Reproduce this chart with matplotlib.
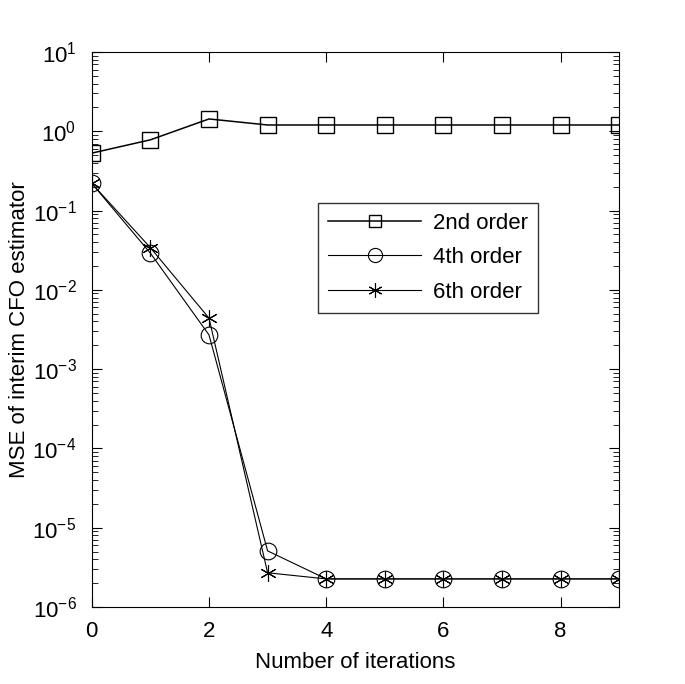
import matplotlib
matplotlib.use("Agg")
import matplotlib.pyplot as plt
import numpy as np

plt.rcParams['font.family'] = ['Liberation Sans', 'DejaVu Sans']
plt.rcParams['axes.unicode_minus'] = False
plt.rcParams['xtick.direction'] = 'in'
plt.rcParams['ytick.direction'] = 'in'

# data
iterations = [0, 1, 2, 3, 4, 5, 6, 7, 8, 9]
mse_2nd = [0.53, 0.78, 1.43, 1.2, 1.2, 1.2, 1.2, 1.2, 1.2, 1.2]
mse_4th = [0.22, 0.029, 0.0027, 5.1e-6, 2.26e-6, 2.26e-6, 2.26e-6, 2.26e-6, 2.26e-6, 2.26e-6]
mse_6th = [0.22, 0.034, 0.0044, 2.7e-6, 2.26e-6, 2.26e-6, 2.26e-6, 2.26e-6, 2.26e-6, 2.26e-6]
labels = ['2nd order', '4th order', '6th order']

fig = plt.figure(figsize=(6.85, 6.84), dpi=100)
ax = fig.add_axes([0.134, 0.1126, 0.770, 0.8114])

ax.semilogy(iterations, mse_2nd, color='k', lw=1.1, marker='s', ms=11,
            mfc='none', mec='k', mew=1.0, label=labels[0])
ax.semilogy(iterations, mse_4th, color='k', lw=0.8, marker='o', ms=12,
            mfc='none', mec='k', mew=0.8, label=labels[1])
ax.semilogy(iterations, mse_6th, color='k', lw=0.8, marker=(6, 2, 0), ms=12,
            mfc='none', mec='k', mew=0.8, label=labels[2])

ax.set_xlim(0, 9)
ax.set_ylim(1e-6, 1e1)
ax.set_xticks([0, 2, 4, 6, 8])
ax.tick_params(which='both', top=True, right=True, labelsize=16)
ax.tick_params(axis='x', which='major', pad=10)
ax.tick_params(axis='y', which='major', pad=11)
ax.tick_params(which='major', length=7)
ax.tick_params(which='minor', length=4)
ax.set_xlabel('Number of iterations', fontsize=16, labelpad=7)
ax.set_ylabel('MSE of interim CFO estimator', fontsize=16, labelpad=2)

leg = ax.legend(loc='upper left', bbox_to_anchor=(0.429, 0.728), fontsize=16,
                handlelength=4.2, markerscale=0.85, frameon=True, fancybox=False,
                edgecolor='k', borderpad=0.45, labelspacing=0.6, handletextpad=0.5,
                borderaxespad=0)
leg.get_frame().set_linewidth(1.0)

fig.savefig('out.png', dpi=100)
